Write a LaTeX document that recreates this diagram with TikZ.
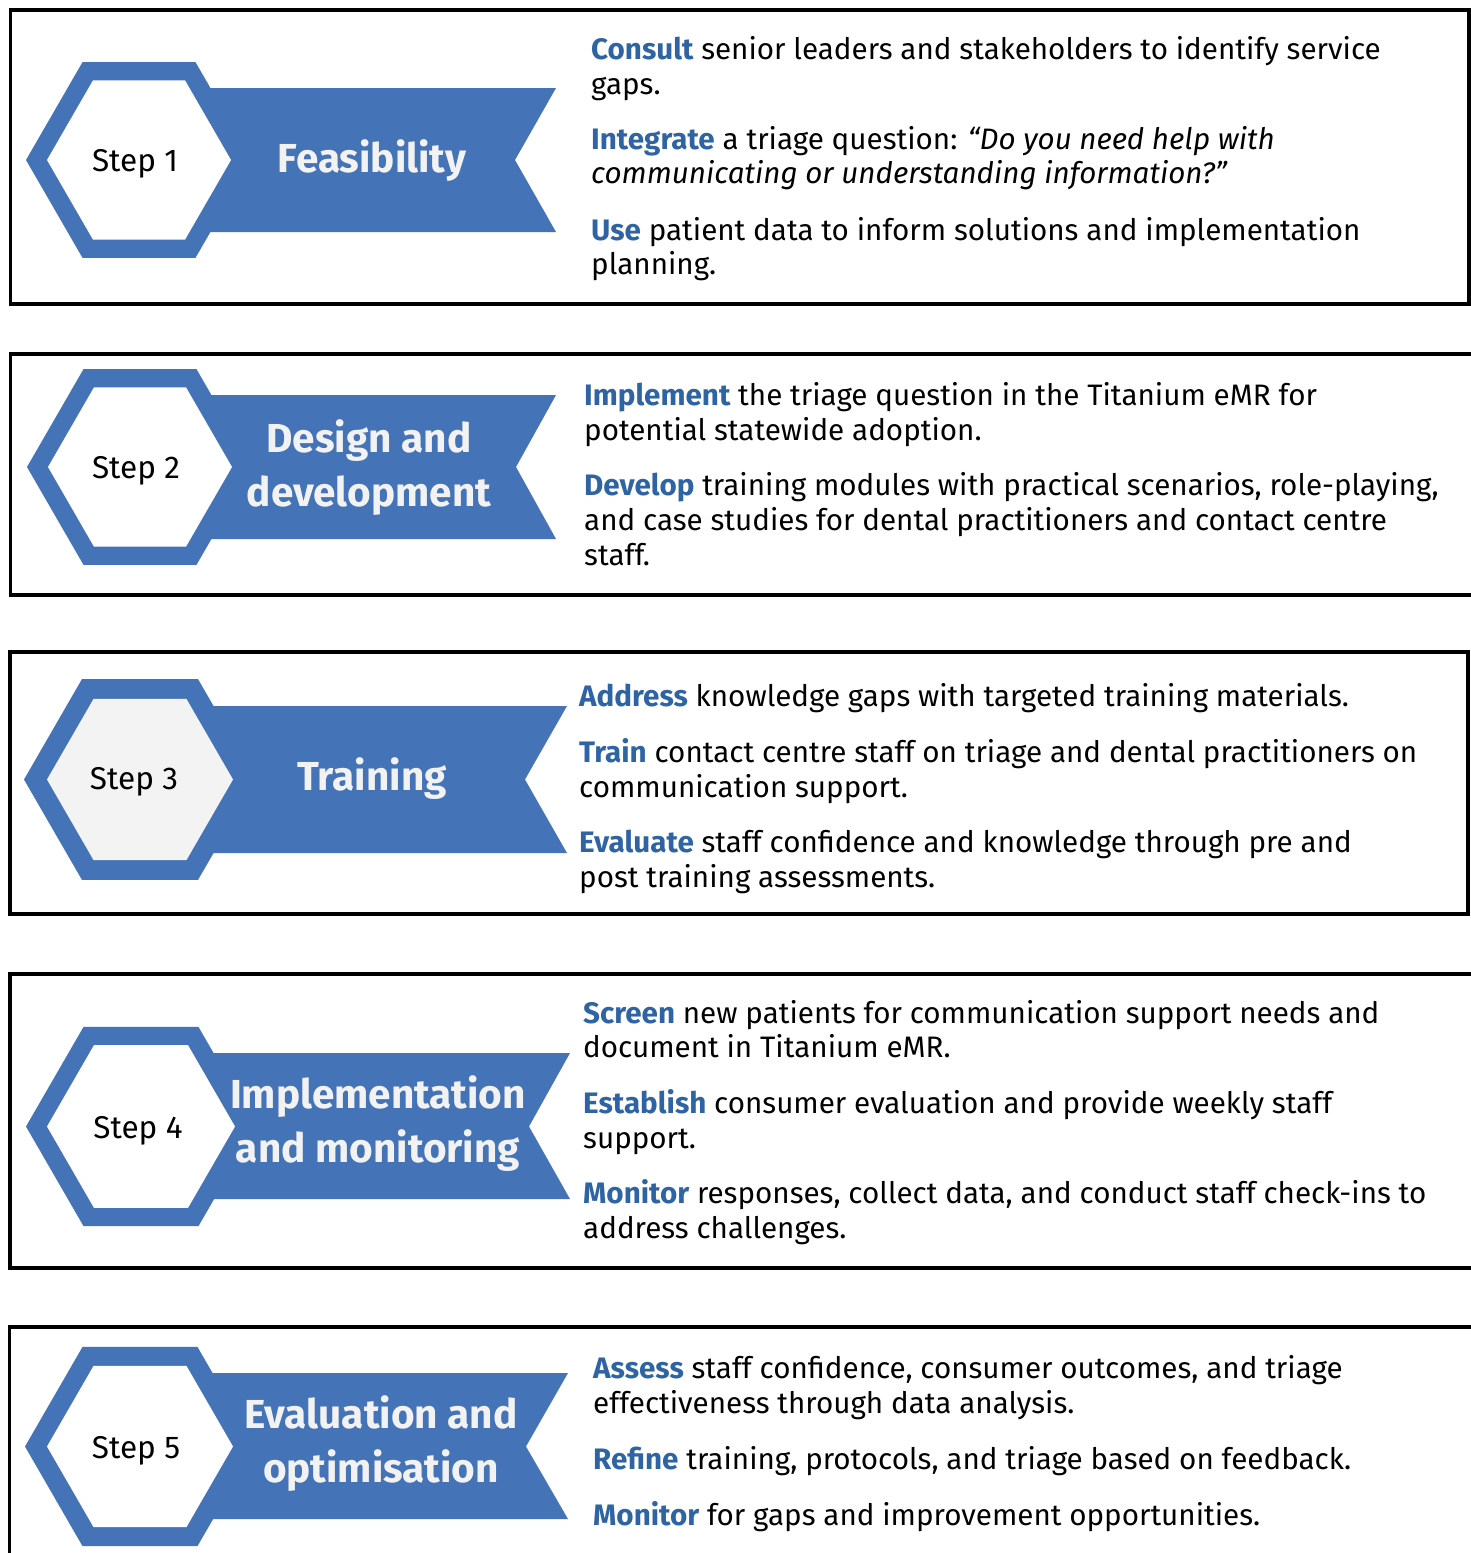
\documentclass[tikz,border=0pt]{standalone}
\usepackage{fontspec}
\setmainfont{Fira Sans}
\definecolor{bannerblue}{HTML}{4473B8}
\definecolor{kwblue}{HTML}{2E64A3}
\definecolor{titlewhite}{HTML}{F2F2F2}
\definecolor{hexgray}{HTML}{F3F3F3}
\newcommand{\kw}[1]{{\bfseries\color{kwblue}#1}}
\tikzset{
  framebox/.style={draw=black, line width=3.6pt},
  bannershape/.style={fill=bannerblue},
  hexouter/.style={fill=bannerblue},
  hexinner/.style={fill=white},
  bodyline/.style={anchor=base west, inner sep=0pt, font=\fontsize{29.6}{35}\selectfont, text=black},
  steplabel/.style={anchor=base, inner sep=0pt, font=\fontsize{31.5}{35}\selectfont, text=black},
  titlelabel/.style={anchor=center, inner sep=0pt, align=center, text=titlewhite,
     font=\fontsize{40.5}{54}\selectfont\bfseries},
}
\newcommand{\stepgraphic}[9]{%
  \fill[bannershape] (#1+60,#5) -- (#7,#5) -- (#8,#2) -- (#7,#6) -- (#1+60,#6) -- cycle;
  \fill[hexouter] (#1,#2) +(0:#3) -- +(60:#3) -- +(120:#3) -- +(180:#3) -- +(240:#3) -- +(300:#3) -- cycle;
  \fill[#9] (#1,#2) +(0:#4) -- +(60:#4) -- +(120:#4) -- +(180:#4) -- +(240:#4) -- +(300:#4) -- cycle;
}
\begin{document}
\begin{tikzpicture}[x=1pt,y=-1pt]
\useasboundingbox (0,0) rectangle (1471,1553);
\fill[white] (0,0) rectangle (1471,1553);
\clip (0,0) rectangle (1471,1553);

% frames
\draw[framebox] (10.5,10) rectangle (1469,304);
\draw[framebox] (10.5,354) rectangle (1490,595);
\draw[framebox] (10,652) rectangle (1468,914);
\draw[framebox] (10,974) rectangle (1490,1268);
\draw[framebox] (9.5,1327) rectangle (1490,1600);

% step graphics
\stepgraphic{139}{160}{113}{92}{88}{232}{556}{515}{hexinner}
\stepgraphic{140}{467}{113}{92}{395}{539}{556}{516}{hexinner}
\stepgraphic{140}{779.5}{116}{93}{706}{853}{567}{525}{hexgray}
\stepgraphic{141}{1126.5}{115}{94}{1053}{1199}{570}{529}{hexinner}
\stepgraphic{140}{1446.5}{115}{93}{1373}{1519}{568}{526}{hexinner}

% step labels
\node[steplabel] (s1) at (135,171) {Step 1};
\node[steplabel] (s2) at (136,478) {Step 2};
\node[steplabel] (s3) at (134,789) {Step 3};
\node[steplabel] (s4) at (138,1138) {Step 4};
\node[steplabel] (s5) at (136,1458) {Step 5};

% titles
\node[titlelabel] (t1) at (372,161) {Feasibility};
\node[titlelabel] (t2) at (369,468) {Design and\\development};
\node[titlelabel] (t3) at (372,779) {Training};
\node[titlelabel] (t4) at (378,1124) {Implementation\\and monitoring};
\node[titlelabel] (t5) at (381,1444) {Evaluation and\\optimisation};

% box 1 text
\node[bodyline] (b1a) at (591,59) {\kw{Consult} senior leaders and stakeholders to identify service};
\node[bodyline] (b1b) at (591,94) {gaps.};
\node[bodyline] (b1c) at (591,149) {\kw{Integrate} a triage question: \textit{“Do you need help with}};
\node[bodyline] (b1d) at (591,183) {\textit{communicating or understanding information?”}};
\node[bodyline] (b1e) at (591,240) {\kw{Use} patient data to inform solutions and implementation};
\node[bodyline] (b1f) at (591,274) {planning.};

% box 2 text
\node[bodyline] (b2a) at (584,405) {\kw{Implement} the triage question in the Titanium eMR for};
\node[bodyline] (b2b) at (584,440) {potential statewide adoption.};
\node[bodyline] (b2c) at (584,495) {\kw{Develop} training modules with practical scenarios, role-playing,};
\node[bodyline] (b2d) at (584,530) {and case studies for dental practitioners and contact centre};
\node[bodyline] (b2e) at (584,565) {staff.};

% box 3 text
\node[bodyline] (b3a) at (579,706) {\kw{Address} knowledge gaps with targeted training materials.};
\node[bodyline] (b3b) at (579,762) {\kw{Train} contact centre staff on triage and dental practitioners on};
\node[bodyline] (b3c) at (579,797) {communication support.};
\node[bodyline] (b3d) at (579,852) {\kw{Evaluate} staff confidence and knowledge through pre and};
\node[bodyline] (b3e) at (579,887) {post training assessments.};

% box 4 text
\node[bodyline] (b4a) at (583,1023) {\kw{Screen} new patients for communication support needs and};
\node[bodyline] (b4b) at (583,1057) {document in Titanium eMR.};
\node[bodyline] (b4c) at (583,1113) {\kw{Establish} consumer evaluation and provide weekly staff};
\node[bodyline] (b4d) at (583,1148) {support.};
\node[bodyline] (b4e) at (583,1203) {\kw{Monitor} responses, collect data, and conduct staff check-ins to};
\node[bodyline] (b4f) at (583,1238) {address challenges.};

% box 5 text
\node[bodyline] (b5a) at (593,1378) {\kw{Assess} staff confidence, consumer outcomes, and triage};
\node[bodyline] (b5b) at (593,1413) {effectiveness through data analysis.};
\node[bodyline] (b5c) at (593,1469) {\kw{Refine} training, protocols, and triage based on feedback.};
\node[bodyline] (b5d) at (593,1525) {\kw{Monitor} for gaps and improvement opportunities.};
\end{tikzpicture}
\end{document}
